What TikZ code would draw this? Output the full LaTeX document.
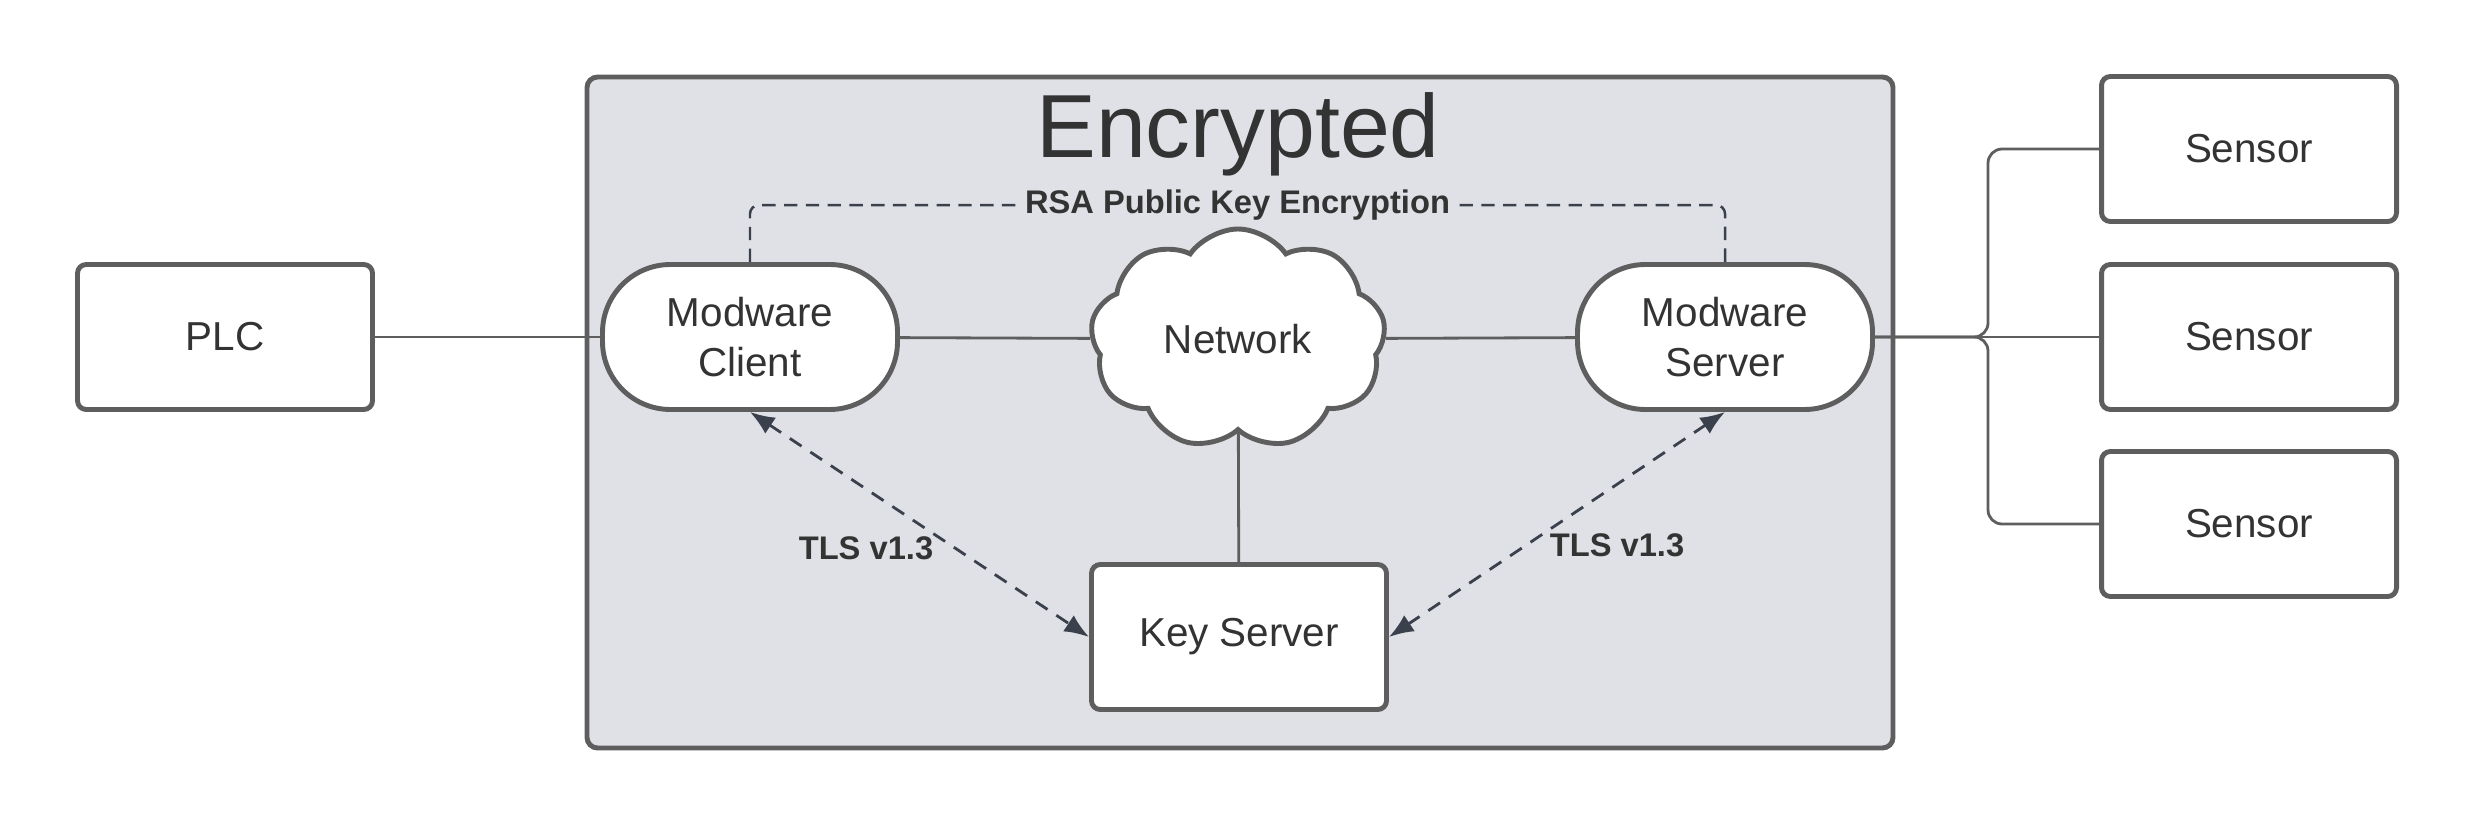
\documentclass[tikz,border=0pt]{standalone}
\usepackage{fontspec}
\setmainfont{Liberation Sans}
\usetikzlibrary{arrows.meta,positioning,shapes.symbols}
\definecolor{edge}{HTML}{5E5E5E}
\definecolor{ink}{HTML}{333333}
\definecolor{zone}{HTML}{DFE1E6}
\definecolor{slate}{HTML}{3A414C}

\begin{document}
\begin{tikzpicture}[>=Latex,font=\fontsize{11.5}{14.2}\selectfont,text=ink,
  box/.style={draw=edge,line width=1.4pt,fill=white,rounded corners=2.5pt,
    minimum width=2.95cm,minimum height=1.45cm,align=center},
  pill/.style={box,rounded corners=0.68cm},
  net/.style={cloud,cloud puffs=9,cloud puff arc=110,cloud ignores aspect,draw=edge,
    line width=1.4pt,fill=white,minimum width=2.95cm,minimum height=2.2cm},
  wire/.style={draw=edge,line width=0.8pt},
  tls/.style={slate,line width=0.8pt,dash pattern=on 4pt off 3pt,
    {Latex[length=7pt,width=5.5pt]}-{Latex[length=7pt,width=5.5pt]}},
  rsa/.style={slate,line width=0.7pt,dash pattern=on 3.8pt off 2.4pt,rounded corners=2.5pt},
  tag/.style={text=ink,font=\bfseries\fontsize{9.3}{11}\selectfont}]
  \useasboundingbox (0,0) rectangle (24.75,8.25);
  % encrypted zone
  \draw[draw=edge,fill=zone,line width=1.4pt,rounded corners=3pt] (5.87,0.77) rectangle (18.93,7.48);
  \node[anchor=base,font=\fontsize{25.5}{30}\selectfont] (title) at (12.38,6.67) {Encrypted};

  \node[box] (plc) at (2.25,4.88) {PLC};
  \node[pill] (client) at (7.50,4.88) {Modware\\Client};
  \node[pill] (server) at (17.25,4.88) {Modware\\Server};
  \node[box] (key) at (12.39,1.88) {Key Server};
  \foreach \y [count=\i] in {6.76,4.88,3.01}
    \node[box] (sensor\i) at (22.49,\y) {Sensor};

  \draw[rsa] (client.north) -- ++(0,0.57) coordinate (rsaL) -- (rsaL -| server.north)
    node[midway,tag,fill=zone,inner sep=1pt] {RSA Public Key Encryption} -- (server.north);
  \node[net] (network) at (12.38,4.86) {Network};

  \draw[wire] (plc) -- (client);
  \draw[wire] (client) -- (network);
  \draw[wire] (network) -- (server);
  \draw[wire] (network) -- (key);
  \draw[wire] (server) -- (sensor2);
  % fork to the sensors
  \coordinate (fork) at (19.88,4.88);
  \draw[wire,rounded corners=4pt] (sensor1.west) -| (fork) -- (server.east);
  \draw[wire,rounded corners=4pt] (sensor3.west) -| (fork) -- (server.east);

  \draw[tls] (client.south) -- (key.west);
  \draw[tls] (server.south) -- (key.east);
  \node[tag] (tlsL) at (8.66,2.77) {TLS v1.3};
  \node[tag] (tlsR) at (16.17,2.80) {TLS v1.3};
\end{tikzpicture}
\end{document}
